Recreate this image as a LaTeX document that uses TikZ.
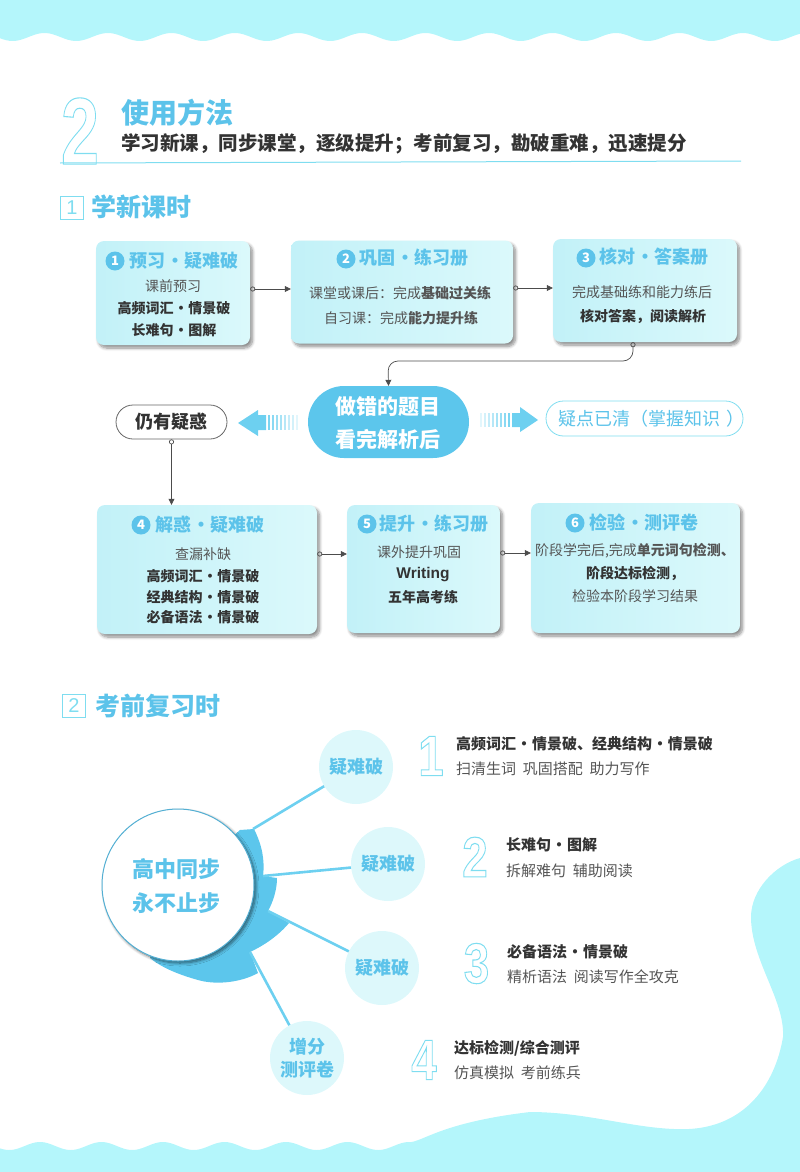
\documentclass[tikz,border=0pt]{standalone}
\usepackage{fontspec}
\setmainfont{Noto Sans CJK SC}
\newfontfamily\numfont{Liberation Sans}
\usetikzlibrary{arrows.meta,shapes.misc,shadows.blur}
\definecolor{bandblue}{HTML}{B4F6FB}
\definecolor{titleblue}{HTML}{5CC3EA}
\definecolor{pillblue}{HTML}{5CC6EC}
\definecolor{spokeblue}{HTML}{6DD0F0}
\definecolor{lineblue}{HTML}{7FDDF0}
\definecolor{boxleft}{HTML}{C2F1F8}
\definecolor{boxright}{HTML}{DBF9FB}
\definecolor{discblue}{HTML}{DDF8FB}
\definecolor{darktext}{HTML}{333333}
\definecolor{graytext}{HTML}{555555}
\newcommand{\outlinedigit}[1]{\special{pdf:code 1 Tr 1.1 w}#1\special{pdf:code 0 Tr}}
\newcommand{\gapdot}{\kern-.2em\ ·\ \kern-.2em}
\tikzset{
  cardbox/.style={rectangle, rounded corners=8pt, inner sep=0pt, left color=boxleft, right color=boxright,
    blur shadow={shadow blur steps=8, shadow xshift=2.5pt, shadow yshift=-3pt, shadow blur radius=3pt, shadow opacity=45}},
  numdot/.style={circle, fill=titleblue, text=white, inner sep=0pt, minimum size=19pt, font=\fontsize{13}{13}\selectfont\bfseries},
  cardtitle/.style={text=titleblue, inner sep=0pt, font=\fontsize{18}{18}\selectfont\bfseries},
  plainline/.style={text=graytext, inner sep=0pt, font=\fontsize{14}{14}\selectfont},
  boldline/.style={text=darktext, inner sep=0pt, font=\fontsize{14}{14}\selectfont\bfseries},
  flowlink/.style={draw=black!70, line width=.7pt, {Circle[open,length=5pt,width=5pt]}-{Triangle[length=6pt,width=6pt]}},
  pillbox/.style={rounded rectangle, inner sep=0pt},
  hubdisc/.style={circle, fill=discblue, text=titleblue, inner sep=0pt, minimum size=74pt, align=center, font=\fontsize{18}{23}\selectfont\bfseries},
  spoke/.style={draw=spokeblue, line width=2.6pt},
  bignum/.style={text=lineblue, inner sep=0pt, xscale=.8, transform shape, font=\fontsize{57}{57}\selectfont\numfont\bfseries},
  sectitle/.style={text=titleblue, anchor=west, inner sep=0pt, font=\fontsize{25}{25}\selectfont\bfseries},
  secnum/.style={draw=lineblue, text=lineblue, line width=.8pt, inner sep=0pt, minimum size=23pt, font=\fontsize{20}{20}\selectfont\numfont},
  revhead/.style={text=darktext, anchor=west, inner sep=0pt, font=\fontsize{15}{15}\selectfont\bfseries},
  revline/.style={text=graytext, anchor=west, inner sep=0pt, font=\fontsize{15}{15}\selectfont}
}
\begin{document}
\begin{tikzpicture}[x=1pt, y=-1pt]
\useasboundingbox (0,0) rectangle (800,1172);
\fill[bandblue] (0,0) -- plot[domain=0:800, samples=260] (\x,{37+4*cos(5.669*(\x-12.7))}) -- (800,0) -- cycle;
\fill[bandblue] (0,1172) -- plot[domain=0:411, samples=140] (\x,{1146+4*cos(5.854*(\x-40)+180)}) .. controls (425,1140) and (445,1122) .. (530,1112) .. controls (590,1112) and (640,1131) .. (689,1129) .. controls (745,1126) and (775,1085) .. (783,1037) .. controls (785,1000) and (751,960) .. (751,917) .. controls (751,890) and (775,865) .. (800,858) -- (800,1172) -- cycle;

\node[bignum, font=\fontsize{95}{95}\selectfont\numfont\bfseries, xscale=.9] (headnum) at (80,131) {\outlinedigit{2}};
\node[text=titleblue, anchor=west, inner sep=0pt, font=\fontsize{28}{28}\selectfont\bfseries] (headtitle) at (121,113) {使用方法};
\node[text=darktext, anchor=west, inner sep=0pt, font=\fontsize{19.5}{20}\selectfont\bfseries] (headsub) at (121,144) {学习新课，同步课堂，逐级提升；考前复习，勘破重难，迅速提分};
\coordinate (headleft) at (60,163);
\coordinate (headright) at (741,161);
\draw[lineblue, line width=1pt] (headleft) -- (headright);

\node[secnum] (sec1) at (72,208) {1};
\node[sectitle] (sec1t) at (91,207) {学新课时};

\node[cardbox, minimum width=154pt, minimum height=104pt] (box1) at (173,293) {};
\node[cardbox, minimum width=222pt, minimum height=103pt] (box2) at (402,292) {};
\node[cardbox, minimum width=184pt, minimum height=103pt] (box3) at (645,290.5) {};
\node[numdot] (dot1) at (115,261) {1};
\node[cardtitle] (title1) at (184,261) {预习\gapdot 疑难破};
\node[plainline] (line11) at (173,286) {课前预习};
\node[boldline] (line12) at (174,308) {高频词汇\gapdot 情景破};
\node[boldline] (line13) at (174,330) {长难句\gapdot 图解};
\node[numdot] (dot2) at (346,259) {2};
\node[cardtitle] (title2) at (414,258) {巩固\gapdot 练习册};
\node[plainline] (line21) at (400,293) {课堂或课后：完成\textbf{基础过关练}};
\node[plainline] (line22) at (401,318) {自习课：完成\textbf{能力提升练}};
\node[numdot] (dot3) at (586,258) {3};
\node[cardtitle] (title3) at (654,257) {核对\gapdot 答案册};
\node[plainline] (line31) at (642,292) {完成基础练和能力练后};
\node[boldline] (line32) at (643,317) {核对答案，阅读解析};
\draw[flowlink] ([yshift=4pt]box1.east) -- ([yshift=3pt]box2.west);
\draw[flowlink] ([yshift=4pt]box2.east) -- ([yshift=2.5pt]box3.west);

\node[pillbox, fill=pillblue, minimum width=161pt, minimum height=72pt] (wrong) at (388.5,422) {};
\node[text=white, inner sep=0pt, font=\fontsize{21}{21}\selectfont\bfseries] (wrong1) at (388,407) {做错的题目};
\node[text=white, inner sep=0pt, font=\fontsize{21}{21}\selectfont\bfseries] (wrong2) at (388,439) {看完解析后};
\coordinate (elbow) at (388,361);
\draw[flowlink, rounded corners=10pt] ([xshift=-12pt]box3.south) -- ([xshift=-12pt]box3.south |- elbow) -- (elbow) -- (wrong.north);

\node[pillbox, draw=black!60, line width=.8pt, fill=white, minimum width=111pt, minimum height=34pt, text=darktext, font=\fontsize{18}{18}\selectfont\bfseries] (doubt) at (171.5,422) {仍有疑惑};
\node[pillbox, draw=lineblue, line width=.8pt, fill=white, minimum width=197pt, minimum height=35pt] (clear) at (644.5,418.5) {};
\node[text=titleblue, anchor=west, inner sep=0pt, font=\fontsize{18}{18}\selectfont] (cleartext) at (558,419) {疑点已清（掌握知识\kern6pt）};

\fill[spokeblue] (238,423) -- (258,410) -- (258,415) -- (266,415) -- (266,430) -- (258,430) -- (258,436) -- cycle;
\foreach \sx/\so in {268/.9,272/.8,276/.7,280/.6,284/.5,288/.4,292/.3,296/.2}
  \fill[spokeblue, opacity=\so] (\sx,415) rectangle ++(2,15);
\fill[spokeblue] (538,420) -- (520,407) -- (520,413) -- (512,413) -- (512,427) -- (520,427) -- (520,432) -- cycle;
\foreach \sx/\so in {508/.9,504/.8,500/.7,496/.6,492/.5,488/.4,484/.3,480/.2}
  \fill[spokeblue, opacity=\so] (\sx,413) rectangle ++(2,14);

\node[cardbox, minimum width=220pt, minimum height=129pt] (box4) at (207,569.5) {};
\node[cardbox, minimum width=153pt, minimum height=128pt] (box5) at (423.5,569) {};
\node[cardbox, minimum width=209pt, minimum height=130pt] (box6) at (635.5,568) {};
\node[numdot] (dot4) at (141,525) {4};
\node[cardtitle] (title4) at (210,525) {解惑\gapdot 疑难破};
\node[plainline] (line41) at (203,554) {查漏补缺};
\node[boldline] (line42) at (203,576) {高频词汇\gapdot 情景破};
\node[boldline] (line43) at (203,597) {经典结构\gapdot 情景破};
\node[boldline] (line44) at (203,617) {必备语法\gapdot 情景破};
\node[numdot] (dot5) at (367,524) {5};
\node[cardtitle] (title5) at (434,524) {提升\gapdot 练习册};
\node[plainline] (line51) at (419,552) {课外提升巩固};
\node[boldline, font=\fontsize{15.5}{15.5}\selectfont\numfont\bfseries] (line52) at (423,575) {Writing};
\node[boldline] (line53) at (423,597) {五年高考练};
\node[numdot] (dot6) at (575,523) {6};
\node[cardtitle] (title6) at (644,523) {检验\gapdot 测评卷};
\node[plainline] (line61) at (635,551) {阶段学完后,完成\textbf{单元词句检测、}};
\node[boldline] (line62) at (635,573) {阶段达标检测，};
\node[plainline] (line63) at (635,596) {检验本阶段学习结果};
\draw[flowlink] (doubt.south) -- (doubt.south |- box4.north);
\draw[flowlink] ([yshift=15.5pt]box4.east) -- ([yshift=15pt]box5.west);
\draw[flowlink] ([yshift=16pt]box5.east) -- ([yshift=15pt]box6.west);

\node[secnum] (sec2) at (74,706) {2};
\node[sectitle] (sec2t) at (95,706) {考前复习时};

\fill[pillblue] (178,885) -- (240,830) -- (254,829) .. controls (262,845) and (265,860) .. (263,876) -- (277,878) .. controls (277,890) and (273,902) .. (268,911) -- (289,923) .. controls (279,935) and (265,945) .. (250,952) -- (258,973) .. controls (240,983) and (215,985) .. (198,980) .. controls (180,975) and (162,968) .. (150,958) -- cycle;
\node[circle, fill=white, draw=titleblue!90!black, line width=1pt, minimum size=152pt, inner sep=0pt, blur shadow={shadow blur steps=8, shadow xshift=2pt, shadow yshift=-2pt, shadow blur radius=3pt, shadow opacity=55}] (hub) at (178,885) {};
\node[text=titleblue, inner sep=0pt, font=\fontsize{22}{22}\selectfont\bfseries] (hub1) at (176,869) {高中同步};
\node[text=titleblue, inner sep=0pt, font=\fontsize{22}{22}\selectfont\bfseries] (hub2) at (176,903) {永不止步};

\node[hubdisc] (disc1) at (356,767) {疑难破};
\node[hubdisc] (disc2) at (388,864) {疑难破};
\node[hubdisc] (disc3) at (382,968) {疑难破};
\node[hubdisc] (disc4) at (307,1058) {增分\\测评卷};
\coordinate (root1) at (253,829);
\coordinate (root2) at (263,876);
\coordinate (root3) at (268,911);
\coordinate (root4) at (250,952);
\draw[spoke] (root1) -- (disc1);
\draw[spoke] (root2) -- (disc2);
\draw[spoke] (root3) -- (disc3);
\draw[spoke] (root4) -- (disc4);

\node[bignum] (num1) at (431,756) {\outlinedigit{1}};
\node[revhead] (rev1a) at (456,744) {高频词汇\gapdot 情景破、经典结构\gapdot 情景破};
\node[revline] (rev1b) at (456,769) {扫清生词\ \ 巩固搭配\ \ 助力写作};
\node[bignum] (num2) at (475,857) {\outlinedigit{2}};
\node[revhead] (rev2a) at (506,845) {长难句\gapdot 图解};
\node[revline] (rev2b) at (506,871) {拆解难句\ \ 辅助阅读};
\node[bignum] (num3) at (476.5,963.5) {\outlinedigit{3}};
\node[revhead] (rev3a) at (507,952) {必备语法\gapdot 情景破};
\node[revline] (rev3b) at (507,977) {精析语法\ \ 阅读写作全攻克};
\node[bignum] (num4) at (424,1060) {\outlinedigit{4}};
\node[revhead] (rev4a) at (454,1048) {达标检测/综合测评};
\node[revline] (rev4b) at (454,1073) {仿真模拟\ \ 考前练兵};
\end{tikzpicture}
\end{document}
